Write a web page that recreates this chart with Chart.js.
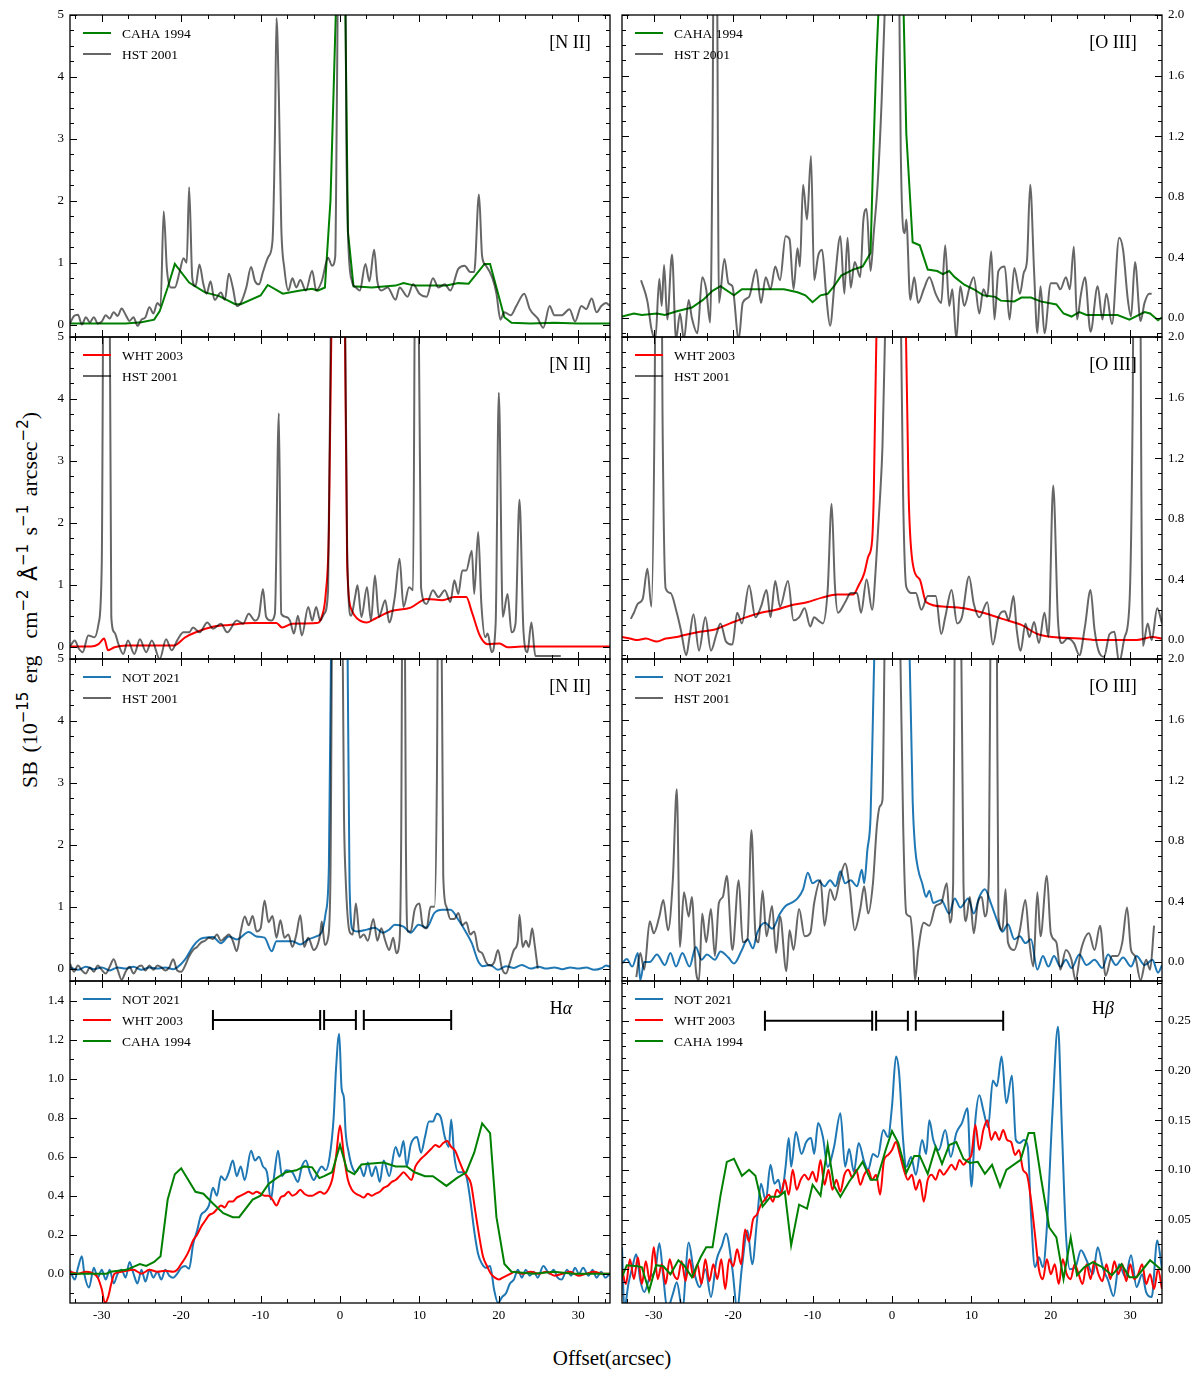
<!DOCTYPE html>
<html>
<head>
<meta charset="utf-8">
<script src="https://cdn.jsdelivr.net/npm/chart.js@4.4.1/dist/chart.umd.min.js"></script>
<style>
  body { margin: 0; background: #fff; width: 1201px; height: 1379px; position: relative; overflow: hidden; font-family: 'Liberation Serif', 'Times New Roman', serif; }
  canvas { position: absolute; }
  #ytitle { position: absolute; left: 30px; top: 600px; transform: translate(-50%, -50%) rotate(-90deg); white-space: nowrap; font-size: 22px; word-spacing: 3px; }
  #xtitle { position: absolute; left: 612px; top: 1358px; transform: translate(-50%, -50%); white-space: nowrap; font-size: 21px; }
  .m { font-family: 'DejaVu Sans', sans-serif; }
  sup { font-family: 'DejaVu Sans', sans-serif; font-size: 68%; vertical-align: 0.6em; line-height: 0; }
</style>
</head>
<body>
<div id="ytitle">SB (10<sup>−15</sup> erg&nbsp; cm<sup>−2</sup> <span class="m">Å</span><sup>−1</sup> s<sup>−1</sup> arcsec<sup>−2</sup>)</div>
<div id="xtitle">Offset(arcsec)</div>
<script>
// ---- data: [offset (arcsec), SB] pairs ----
const niiCaha94 = [[-34,0.02],[-30,0.02],[-27,0.02],[-25,0.04],[-23.4,0.08],[-22.7,0.22],[-21.7,0.6],[-20.8,0.98],[-19,0.68],[-17,0.52],[-15.2,0.46],[-13.2,0.33],[-12.5,0.33],[-10,0.47],[-9.1,0.64],[-7.2,0.5],[-5,0.55],[-3.5,0.58],[-2.8,0.55],[-1.9,0.6],[-1.2,2.0],[-0.4,5.6],[0,8],[0.5,7],[1,1.5],[1.7,0.62],[4,0.6],[7,0.63],[8,0.67],[9.4,0.63],[13.4,0.63],[14.9,0.67],[16.2,0.66],[17.4,0.85],[18.2,0.98],[18.9,0.98],[19.7,0.6],[20.7,0.12],[21.6,0.03],[24,0.02],[27,0.03],[30,0.02],[34,0.02]];
const niiHst01a = [[-34,0.02],[-33.5,0.14],[-33,0.16],[-32.5,0.0],[-32,0.12],[-31.5,0.04],[-31,0.12],[-30.5,0.02],[-30,0.05],[-29.5,0.15],[-29,0.1],[-28.5,0.2],[-28,0.14],[-27.5,0.26],[-27,0.16],[-26.5,0.06],[-26,0.12],[-25.5,-0.02],[-25,0.08],[-24.5,0.12],[-24,0.28],[-23.5,0.18],[-23,0.35],[-22.6,0.3],[-22.2,1.83],[-21.8,0.9],[-21.3,0.6],[-20.8,0.6],[-20.2,0.85],[-19.7,1.07],[-19.3,1.0],[-19,2.22],[-18.6,0.75],[-18.2,0.62],[-17.7,0.97],[-17.2,0.65],[-16.8,0.5],[-16.3,0.7],[-15.8,0.4],[-15,0.52],[-14.5,0.4],[-14,0.82],[-13.5,0.6],[-13,0.3],[-12.5,0.35],[-11.8,0.6],[-11.2,0.93],[-10.7,0.7],[-10.2,0.65],[-9.7,0.85],[-9,1.1],[-8.5,1.35],[-8.2,3.0],[-8,4.95],[-7.7,3.7],[-7.4,1.6],[-7,0.9],[-6.5,0.55],[-6,0.75],[-5.5,0.6],[-5,0.72],[-4.3,0.55],[-3.5,0.87],[-3,0.55],[-2.3,0.7],[-1.5,1.08],[-1,0.95],[-0.6,1.1],[-0.4,3.5],[0,9],[0.5,9],[0.8,3],[1,1.5],[1.5,0.7],[2,0.6],[2.5,0.55],[3.2,0.98],[3.7,0.7],[4.3,1.21],[4.7,0.7],[5.2,0.55],[6,0.6],[7,0.4],[7.5,0.6],[8.5,0.45],[9.2,0.65],[10,0.5],[10.9,0.45],[11.7,0.75],[12.4,0.6],[13.2,0.65],[13.9,0.55],[14.9,0.9],[15.7,0.95],[16.4,0.85],[16.9,0.85],[17.5,2.1],[17.9,1.1],[18.4,0.95],[19.2,0.75],[19.7,0.5],[20.2,0.08],[20.7,0.2],[21.5,0.15],[22.2,0.3],[23.2,0.5],[23.9,0.25],[24.9,0.1],[25.6,-0.05],[26.4,0.3],[27,0.15],[27.9,0.15],[28.9,0.25],[29.6,0.05],[30.4,0.3],[31,0.25],[31.7,0.42],[32.3,0.2],[32.9,0.3],[33.5,0.35],[34,0.3]];

const oiiiCaha94 = [[-34,0.01],[-32.5,0.03],[-31.5,0.02],[-29.6,0.03],[-28.6,0.02],[-27.1,0.045],[-25.2,0.07],[-23.8,0.12],[-22.6,0.18],[-21.6,0.21],[-19.9,0.15],[-18.9,0.19],[-13.6,0.19],[-11.9,0.17],[-10.9,0.15],[-10,0.105],[-9,0.15],[-8.1,0.16],[-7.3,0.21],[-6.4,0.28],[-4.9,0.32],[-3.7,0.34],[-2.7,0.43],[-2.4,1.0],[-2.0,1.66],[-1.4,2.4],[0,3],[1.3,2.4],[1.8,1.22],[2.6,0.5],[3.5,0.48],[4.5,0.32],[5.7,0.31],[6.4,0.29],[7.2,0.31],[7.9,0.27],[9.1,0.22],[10.3,0.19],[11.5,0.15],[13,0.14],[13.7,0.115],[15.4,0.11],[16.3,0.135],[17.5,0.135],[18.7,0.11],[20.7,0.09],[21.6,0.03],[22.6,0.01],[23.6,0.04],[24.5,0.02],[28.4,0.02],[29.9,-0.01],[31.8,0.04],[32.5,0.03],[33.5,-0.015],[34,0.005]];
const oiiiHst01a = [[-31.6,0.25],[-30.8,0.11],[-30.3,-0.07],[-29.8,-0.14],[-29.3,0.26],[-29,0.08],[-28.7,0.35],[-28.3,-0.01],[-27.7,0.42],[-27.2,-0.14],[-26.7,0.03],[-26.2,-0.14],[-25.6,0.12],[-25.2,0.0],[-24.5,-0.1],[-23.9,0.27],[-23.4,0.19],[-22.9,-0.03],[-22.6,1.2],[-22.4,3],[-22.1,3],[-21.9,0.8],[-21.8,0.1],[-21.1,0.39],[-20.6,0.23],[-20.1,0.21],[-19.3,-0.14],[-18.8,0.1],[-18,0.14],[-17.1,0.32],[-16.5,0.1],[-15.9,0.27],[-15.3,0.19],[-14.7,0.34],[-14.1,0.25],[-13.4,0.54],[-12.9,0.52],[-12.4,0.19],[-11.9,0.46],[-11.6,0.34],[-11.2,0.88],[-10.7,0.65],[-10.2,1.07],[-9.8,0.25],[-9.3,0.41],[-8.8,0.45],[-8.3,0.16],[-7.8,-0.05],[-7.2,0.25],[-6.5,0.54],[-6,0.16],[-5.6,0.53],[-5.2,0.2],[-4.7,0.37],[-4,0.27],[-3.6,0.65],[-3.2,0.72],[-2.7,0.31],[-2.3,0.56],[-1.8,0.89],[-1.3,1.44],[-0.8,2.2],[0,4],[0.9,2.2],[1.1,1.11],[1.6,0.56],[1.8,0.65],[2.3,0.12],[2.8,0.27],[3.3,0.1],[4,0.19],[4.7,0.27],[5.5,0.16],[6.2,0.1],[6.7,0.48],[7.2,0.08],[7.6,0.19],[8.1,-0.14],[8.6,0.21],[9.1,0.08],[9.8,0.21],[10.3,0.27],[11,0.03],[11.5,0.19],[12,0.14],[12.5,0.44],[12.9,-0.01],[13.4,0.31],[14.2,0.34],[14.8,-0.01],[15.4,0.33],[16.1,0.16],[16.6,0.3],[17,0.38],[17.4,0.88],[17.9,0.3],[18.3,-0.1],[18.7,0.21],[19.2,-0.1],[20,0.23],[20.7,0.23],[21.2,0.19],[21.9,0.27],[22.4,0.19],[22.9,0.47],[23.3,-0.01],[23.8,0.16],[24.3,0.27],[25,-0.09],[25.9,0.21],[26.5,-0.01],[27,0.16],[27.7,-0.04],[28.6,0.53],[29.1,0.45],[29.7,0.12],[30.1,0.01],[30.6,0.37],[31.3,-0.02],[31.8,0.1],[32.4,0.16],[32.7,0.16]];

const niiWht03 = [[-34,0.0],[-31.4,0.0],[-30.4,0.04],[-29.7,0.13],[-29.2,-0.06],[-28.4,-0.01],[-26.9,0.02],[-20.9,0.02],[-19.5,0.15],[-18,0.24],[-16,0.32],[-14,0.35],[-11,0.38],[-8,0.38],[-7.3,0.31],[-6,0.37],[-3,0.38],[-2.3,0.48],[-1.8,0.85],[-1.4,1.88],[-1,6],[0,9],[0.5,7],[0.9,1.34],[1.5,0.58],[2.2,0.45],[3.4,0.39],[4.4,0.45],[6.4,0.57],[8.9,0.63],[10.9,0.77],[12.9,0.75],[14.4,0.8],[15.9,0.8],[16.6,0.56],[17.6,0.18],[18.6,0.04],[20.1,0.05],[21.1,-0.01],[22.9,0.0],[34,0.0]];
const niiHst01b = [[-34,0.0],[-33.4,0.1],[-32.9,-0.03],[-32.4,-0.09],[-31.7,0.18],[-30.9,0.15],[-30.4,0.37],[-30,1.34],[-29.7,8],[-29.1,8],[-28.8,0.48],[-28.4,0.23],[-27.9,0.04],[-27.3,-0.12],[-26.7,0.1],[-25.9,-0.12],[-25.2,0.12],[-24.4,-0.09],[-23.7,0.1],[-22.7,-0.2],[-21.9,0.12],[-21.2,-0.06],[-20.5,0.1],[-19.7,0.23],[-19,0.23],[-18.5,0.31],[-17.7,0.23],[-16.7,0.39],[-16,0.29],[-15,0.37],[-14.2,0.23],[-13,0.42],[-12.2,0.37],[-11.5,0.53],[-10.7,0.42],[-10.2,0.5],[-9.7,0.93],[-9.3,0.48],[-8.7,0.42],[-8.2,0.53],[-7.7,3.77],[-7.4,0.53],[-6.8,0.48],[-6.3,0.42],[-5.8,0.21],[-5.3,0.5],[-4.8,0.18],[-4,0.64],[-3.5,0.42],[-3,0.64],[-2.5,0.42],[-2,0.53],[-1.5,0.91],[-1.1,6],[0,9],[0.6,6],[0.9,1.6],[1.4,0.5],[1.9,0.8],[2.2,0.99],[2.7,0.48],[3.4,0.96],[3.9,0.42],[4.4,1.15],[4.9,0.48],[5.7,0.75],[6.2,0.39],[6.9,0.8],[7.5,1.42],[8,0.64],[8.7,0.96],[9.2,0.91],[9.5,7],[9.8,7],[10.2,0.96],[10.9,0.69],[11.7,0.91],[12.4,0.8],[13.2,0.91],[13.9,0.72],[14.4,1.07],[14.9,0.85],[15.4,1.23],[15.9,1.23],[16.6,1.55],[16.9,0.85],[17.4,1.85],[17.8,0.69],[18.3,0.15],[18.6,0.21],[19.1,-0.09],[19.6,0.37],[20,4.1],[20.5,0.48],[21.1,0.85],[21.6,0.23],[22.1,0.37],[22.6,2.37],[23.1,0.26],[23.6,-0.09],[24.1,0.39],[24.6,-0.15],[27.8,-0.15]];

const oiiiWht03 = [[-34,0.02],[-33,0.01],[-32,0.0],[-31,0.01],[-29.6,-0.01],[-28.5,0.01],[-27.1,0.02],[-26.4,0.03],[-24.2,0.055],[-22.3,0.07],[-20.4,0.11],[-18.4,0.15],[-16.5,0.18],[-14.6,0.2],[-12.7,0.23],[-10.7,0.25],[-8.8,0.28],[-6.9,0.3],[-4.9,0.3],[-4.2,0.36],[-3.5,0.44],[-3,0.55],[-2.5,0.66],[-2.3,0.95],[-1.9,2.2],[0,3.5],[1.7,2.2],[2.1,0.95],[2.7,0.48],[3.5,0.4],[4.3,0.25],[6.7,0.22],[9.1,0.21],[11.5,0.18],[13.9,0.14],[16.3,0.1],[18.3,0.04],[20.2,0.02],[23.6,0.01],[26,0.0],[30.8,0.0],[32.8,0.02],[34,0.01]];
const oiiiHst01b = [[-32.9,0.14],[-32.5,0.18],[-32,0.24],[-31.4,0.27],[-30.8,0.47],[-30.3,0.22],[-29.9,1.5],[-29.6,4],[-29.2,4],[-28.9,1.5],[-28.5,0.34],[-27.9,0.31],[-27.1,0.18],[-26.6,0.07],[-25.9,-0.1],[-25.5,0.02],[-25,0.17],[-24.3,-0.07],[-23.5,0.15],[-22.8,-0.07],[-22.1,0.04],[-21.6,0.11],[-20.9,-0.01],[-20.1,-0.03],[-19.5,0.18],[-18.9,0.11],[-18,0.36],[-17.2,0.15],[-16.5,0.22],[-15.8,0.33],[-15.3,0.15],[-14.7,0.39],[-14.1,0.22],[-13.1,0.39],[-12.4,0.13],[-11.7,0.15],[-11,0.21],[-10.3,0.09],[-9.8,0.15],[-9.3,0.13],[-8.7,0.11],[-8.1,0.33],[-7.6,0.9],[-7.2,0.37],[-6.8,0.18],[-5.9,0.25],[-5.2,0.31],[-4.4,0.31],[-3.9,0.18],[-3.2,0.4],[-2.5,0.2],[-2,0.51],[-1.5,0.95],[-1.2,1.28],[-0.8,2.2],[0,4],[1.1,2.2],[1.4,0.95],[1.8,0.35],[2.6,0.31],[3,0.31],[3.7,0.2],[4.5,0.29],[5.5,0.29],[6.2,0.04],[6.7,0.15],[7.5,0.33],[8.2,0.11],[8.8,0.15],[9.7,0.42],[10.3,0.24],[11,0.15],[12,0.25],[12.7,-0.03],[13.4,0.15],[14.2,0.19],[14.7,0.13],[15.3,0.29],[15.7,0.07],[16.2,-0.07],[16.8,0.11],[17.3,0.02],[17.9,0.12],[18.5,-0.02],[19.2,0.18],[19.7,0.02],[20.3,1.02],[20.9,0.13],[21.4,-0.02],[22.1,0.01],[22.9,-0.02],[23.6,-0.1],[24.3,0.09],[25,0.33],[25.5,0.07],[26,-0.07],[26.7,-0.11],[27.4,0.04],[28,0.055],[28.6,-0.15],[29.3,0.02],[29.9,0.24],[30.3,1.5],[30.6,4],[31.1,4],[31.4,1.0],[31.6,-0.04],[32.2,0.11],[32.7,0.0],[33.4,0.21],[34,0.11]];

const niiNot21 = [[-34,0.02],[-33,-0.02],[-32,0.03],[-31,-0.01],[-30,0.02],[-29,-0.03],[-28,0.02],[-27,0.0],[-26,0.03],[-25,-0.02],[-24,0.02],[-23,0.0],[-22,0.02],[-21,-0.01],[-20.5,0.02],[-19.5,0.15],[-18.5,0.36],[-17.7,0.47],[-17,0.5],[-16,0.51],[-15,0.41],[-14,0.52],[-13,0.47],[-11.5,0.59],[-10.5,0.52],[-9.5,0.5],[-8.6,0.28],[-8,0.44],[-7,0.44],[-6,0.44],[-5,0.39],[-4,0.47],[-3,0.52],[-2.3,0.59],[-1.8,0.9],[-1.4,1.65],[-1.1,5.5],[0,9],[0.9,6],[1.2,1.38],[1.6,0.63],[2.2,0.6],[3.4,0.63],[4.4,0.66],[5.4,0.58],[6.2,0.63],[6.9,0.71],[8,0.68],[8.9,0.58],[9.9,0.71],[10.9,0.66],[11.9,0.9],[12.9,0.95],[13.9,0.95],[14.9,0.79],[15.9,0.58],[16.6,0.41],[17.4,0.12],[18,0.04],[18.9,0.06],[19.9,-0.02],[20.9,0.04],[21.9,0.01],[22.9,0.06],[24,0.0],[25,0.03],[26,0.0],[27,0.02],[28,-0.01],[29,0.02],[30,0.0],[31,0.02],[32,-0.02],[33,0.01],[33.5,0.05],[34,0.03]];
const niiHst01c = [[-34,0.08],[-33.5,-0.05],[-33,0.05],[-32.5,-0.03],[-32,-0.08],[-31.5,0.02],[-31,-0.05],[-30.5,0.05],[-30,-0.02],[-29.5,-0.08],[-29,0.03],[-28.5,0.15],[-28,-0.02],[-27.5,-0.18],[-27,-0.05],[-26.5,0.03],[-26,-0.08],[-25.5,0.02],[-25,0.05],[-24.5,-0.03],[-24,0.05],[-23.5,-0.02],[-23,0.05],[-22.5,0.02],[-22,-0.03],[-21.5,0.02],[-21,0.15],[-20.5,-0.03],[-20,-0.05],[-19.5,0.05],[-19,0.2],[-18.5,0.3],[-18,0.35],[-17.5,0.42],[-17,0.45],[-16.5,0.5],[-16,0.48],[-15.5,0.55],[-15,0.45],[-14.5,0.5],[-14,0.55],[-13.5,0.45],[-13,0.28],[-12.5,0.6],[-12,0.84],[-11.5,0.7],[-11,0.85],[-10.5,0.6],[-10,0.65],[-9.5,1.1],[-9,0.75],[-8.5,0.85],[-8,0.5],[-7.5,0.78],[-7,0.5],[-6.5,0.55],[-6,0.35],[-5.5,0.55],[-5,0.86],[-4.5,0.35],[-4,0.5],[-3.3,0.3],[-2.5,0.55],[-2.3,0.76],[-1.9,0.38],[-1.5,0.5],[-1.2,1.5],[-0.9,7],[0.2,7],[0.5,2.5],[0.7,1.5],[1.2,0.6],[1.6,0.55],[2,1.05],[2.5,0.5],[3,0.55],[3.5,0.45],[4.2,0.8],[4.7,0.45],[5.2,0.65],[5.7,0.45],[6.2,0.3],[6.7,0.5],[7.1,0.25],[7.5,0.45],[7.7,2],[7.9,7],[8.1,7],[8.3,2],[8.5,0.6],[8.9,0.6],[9.4,0.95],[10,1.05],[10.4,0.7],[10.9,0.65],[11.4,1.0],[11.9,1.0],[12.2,3],[12.4,7],[12.7,7],[13,1.5],[13.4,1.0],[13.9,0.8],[14.4,0.8],[14.9,0.9],[15.4,0.7],[15.9,0.75],[16.4,0.55],[16.9,0.6],[17.4,0.3],[17.9,0.25],[18.4,0.1],[18.9,0.05],[19.4,0.1],[19.9,0.3],[20.4,0.0],[20.9,-0.08],[21.4,0.1],[21.9,0.3],[22.4,0.45],[22.6,0.87],[23,0.35],[23.4,0.45],[23.8,0.35],[24.2,0.65],[24.5,0.4],[24.9,0.0]];

const oiiiNot21 = [[-34,-0.01],[-33.4,0.02],[-32.7,-0.03],[-32,0.06],[-31.7,-0.12],[-31.2,0.0],[-30.5,0.0],[-29.6,0.05],[-28.6,-0.02],[-27.9,0.06],[-27.2,-0.03],[-26.4,0.06],[-25.5,-0.03],[-24.7,0.1],[-24,0.015],[-23.3,0.05],[-22.3,0.015],[-21.6,0.07],[-20.6,0.03],[-19.9,-0.01],[-18.9,0.08],[-18.2,0.15],[-17.5,0.09],[-17,0.19],[-16,0.26],[-15.1,0.22],[-14.1,0.32],[-13.4,0.37],[-12.7,0.39],[-11.9,0.42],[-11.2,0.48],[-10.6,0.59],[-10,0.52],[-9.3,0.54],[-8.5,0.5],[-7.8,0.54],[-7.1,0.5],[-6.5,0.6],[-5.9,0.52],[-5.2,0.54],[-4.4,0.5],[-3.8,0.61],[-3.5,0.52],[-3.1,0.74],[-2.7,0.96],[-2.4,1.62],[-2.1,2.3],[0,3.5],[2.1,2.3],[2.6,1.07],[2.9,0.76],[3.3,0.61],[3.8,0.52],[4.3,0.43],[4.7,0.47],[5.2,0.39],[6.2,0.41],[7.2,0.32],[7.9,0.42],[8.6,0.36],[9.6,0.42],[10.3,0.32],[11,0.43],[11.7,0.48],[12.5,0.38],[13.2,0.28],[13.9,0.2],[14.6,0.25],[15.4,0.15],[16.1,0.17],[16.8,0.125],[17.5,0.15],[18.3,-0.05],[19,0.04],[19.7,-0.03],[20.4,0.04],[21.2,-0.03],[21.9,0.015],[22.6,-0.04],[23.6,0.05],[24.5,-0.02],[25.5,0.015],[26.5,-0.04],[27.2,0.05],[28.2,-0.02],[29.1,0.03],[30.1,-0.03],[30.8,0.04],[31.8,-0.02],[32.8,0.015],[33.5,-0.07],[34,-0.02]];
const oiiiHst01c = [[-32.2,-0.1],[-31.7,0.06],[-31.2,-0.05],[-30.5,0.27],[-30,0.19],[-29.3,0.3],[-28.8,0.41],[-28.2,0.21],[-27.6,0.54],[-27.1,1.14],[-26.7,0.1],[-26.2,0.46],[-25.6,0.3],[-25.2,0.43],[-24.7,-0.05],[-24.3,-0.12],[-23.9,0.32],[-23.4,0.13],[-22.8,0.35],[-22.3,0.04],[-21.8,0.39],[-21.3,0.43],[-20.8,0.57],[-20.1,0.08],[-19.3,0.54],[-18.8,0.13],[-18.2,0.15],[-17.7,0.87],[-17.2,0.19],[-16.8,0.13],[-16.3,0.47],[-15.8,0.17],[-15.1,0.37],[-14.6,0.06],[-14.1,0.3],[-13.3,-0.06],[-12.9,0.21],[-12.4,0.08],[-11.7,0.35],[-11,0.17],[-10.3,0.19],[-9.8,0.39],[-9,0.54],[-8.5,0.24],[-7.8,0.48],[-7.2,0.41],[-6.6,0.54],[-5.9,0.65],[-5.3,0.48],[-4.7,0.21],[-4,0.35],[-3.5,0.5],[-3,0.32],[-2.4,0.52],[-1.9,0.9],[-1.5,1.03],[-1.2,1.07],[-0.9,2.2],[0,4],[1,2.2],[1.4,0.92],[1.8,0.32],[2.3,0.3],[2.7,0.08],[2.9,-0.12],[3.3,0.08],[4,0.26],[4.7,0.24],[5.5,0.37],[6.2,0.39],[6.9,0.52],[7.3,0.26],[7.7,0.52],[7.9,2.2],[8.1,4],[8.5,4],[8.7,2.2],[9,0.52],[9.3,0.27],[9.8,0.43],[10.3,0.19],[10.8,0.39],[11.3,0.43],[11.7,0.3],[12.2,0.57],[12.4,2.2],[12.6,4],[13,4],[13.2,2.2],[13.4,0.3],[13.9,0.21],[14.3,0.48],[14.6,0.13],[15.4,0.08],[16.1,0.21],[16.8,0.41],[17.3,0.13],[17.8,-0.03],[18.3,0.46],[18.7,0.17],[19.5,0.57],[20,0.19],[20.7,0.13],[21.2,-0.05],[21.9,0.08],[22.6,0.015],[23.1,-0.12],[23.8,0.08],[24.8,0.19],[25.5,0.08],[26.2,0.24],[26.9,-0.09],[27.7,0.04],[28.4,0.04],[29,0.13],[29.6,0.36],[30.1,0.08],[30.6,0.04],[31.3,-0.12],[32,0.015],[32.5,-0.05],[33,0.24]];

const haNot21 = [[-34,0.02],[-33.4,-0.03],[-33,0.03],[-32.5,0.09],[-32.2,0.0],[-31.6,-0.07],[-31,0.03],[-30.5,-0.02],[-30,0.02],[-29.5,-0.03],[-29,0.02],[-28.5,-0.05],[-28,0.0],[-27.5,0.02],[-27,-0.02],[-26.5,0.06],[-26,0.0],[-25.5,-0.05],[-25,0.02],[-24.5,-0.04],[-24,0.02],[-23.5,-0.02],[-23,0.01],[-22.5,-0.03],[-22,0.02],[-21.5,-0.01],[-21,-0.02],[-20.5,0.0],[-20,0.03],[-19.5,0.04],[-19,0.025],[-18.5,0.15],[-18,0.22],[-17.5,0.3],[-17,0.32],[-16.5,0.35],[-16,0.44],[-15.5,0.4],[-15,0.5],[-14.5,0.48],[-14,0.52],[-13.5,0.58],[-13,0.5],[-12.5,0.55],[-12,0.48],[-11.2,0.63],[-10.7,0.58],[-10.2,0.6],[-9.7,0.55],[-9.2,0.52],[-8.7,0.38],[-8.3,0.5],[-7.8,0.63],[-7.3,0.5],[-6.8,0.53],[-6,0.52],[-5.3,0.47],[-4.8,0.55],[-4.3,0.58],[-3.8,0.52],[-3.3,0.48],[-2.8,0.52],[-2.3,0.55],[-1.8,0.53],[-1.3,0.6],[-0.8,0.8],[-0.5,1.05],[-0.1,1.23],[0.2,0.95],[0.5,0.9],[0.7,0.73],[1.1,0.62],[1.5,0.55],[2,0.52],[2.5,0.55],[3,0.5],[3.5,0.57],[4,0.5],[4.5,0.55],[5,0.47],[5.5,0.58],[6.2,0.5],[7,0.65],[7.5,0.6],[8,0.68],[8.4,0.55],[8.9,0.66],[9.7,0.7],[10.2,0.62],[10.7,0.7],[11.2,0.78],[11.7,0.78],[12.2,0.82],[12.7,0.8],[13.2,0.7],[13.7,0.65],[14,0.79],[14.4,0.6],[14.9,0.52],[15.4,0.52],[15.9,0.5],[16.4,0.38],[16.9,0.22],[17.4,0.1],[17.9,0.05],[18.4,0.03],[18.9,0.04],[19.4,-0.08],[19.9,-0.15],[20.4,-0.12],[20.9,-0.1],[21.4,-0.05],[21.9,-0.03],[22.4,0.02],[22.9,-0.02],[23.4,0.02],[23.9,-0.01],[24.4,0.01],[24.9,-0.02],[25.6,0.04],[26.4,0.0],[26.9,0.02],[27.4,-0.02],[27.9,-0.03],[28.6,0.02],[29.1,-0.01],[29.6,0.03],[30.1,0.0],[30.6,0.03],[31.3,-0.01],[31.8,0.02],[32.3,-0.02],[32.9,0.01],[33.4,-0.02],[34,0.0]];
const haWht03 = [[-34,0.01],[-33,0.0],[-32,0.01],[-31,0.0],[-30.5,-0.02],[-30,-0.08],[-29.6,-0.15],[-29.2,-0.12],[-28.8,-0.05],[-28.4,0.0],[-27.5,0.01],[-26,0.02],[-25,0.0],[-24,0.02],[-23,0.01],[-22,0.015],[-21,0.01],[-20.5,0.02],[-20,0.05],[-19.5,0.08],[-19,0.12],[-18.5,0.17],[-18,0.2],[-17.5,0.24],[-17,0.27],[-16.5,0.3],[-16,0.31],[-15.5,0.33],[-15,0.35],[-14.5,0.34],[-14,0.37],[-13.5,0.37],[-13,0.39],[-12.5,0.4],[-12,0.41],[-11.5,0.42],[-11,0.41],[-10.5,0.42],[-10,0.41],[-9.5,0.4],[-9,0.4],[-8.5,0.38],[-8,0.35],[-7.5,0.39],[-7,0.4],[-6.5,0.42],[-6,0.4],[-5.5,0.41],[-5,0.43],[-4.5,0.41],[-4,0.4],[-3.5,0.4],[-3,0.41],[-2.5,0.42],[-2,0.41],[-1.5,0.43],[-1,0.48],[-0.5,0.6],[0,0.76],[0.5,0.6],[1,0.48],[1.5,0.43],[2,0.41],[2.5,0.4],[3,0.39],[3.5,0.41],[4,0.4],[4.5,0.41],[5,0.42],[5.5,0.44],[6,0.45],[6.5,0.47],[7,0.48],[7.5,0.5],[8,0.52],[8.5,0.5],[9,0.48],[9.5,0.55],[10,0.58],[10.5,0.6],[11,0.62],[11.5,0.64],[12,0.66],[12.5,0.65],[13,0.67],[13.5,0.68],[14,0.65],[14.5,0.63],[15,0.58],[15.5,0.53],[16,0.5],[16.5,0.46],[17,0.33],[17.5,0.2],[18,0.09],[18.5,0.04],[19,0.0],[19.5,-0.02],[20,-0.03],[20.5,-0.02],[21,-0.01],[21.5,0.0],[22,0.01],[23,0.0],[24,0.01],[25,0.0],[26,0.01],[27,-0.01],[28,0.0],[29,0.01],[30,-0.01],[31,0.0],[32,0.01],[33,0.0],[34,0.0]];
const haCaha94 = [[-34,0.0],[-29.4,0.0],[-28.9,0.01],[-26.9,0.02],[-25.2,0.05],[-24.4,0.04],[-23.4,0.06],[-22.6,0.09],[-21.7,0.38],[-20.8,0.51],[-20,0.54],[-19.1,0.48],[-18.2,0.42],[-17.2,0.41],[-16,0.36],[-14.7,0.31],[-13.5,0.29],[-12.7,0.29],[-11,0.38],[-10,0.4],[-9,0.46],[-8,0.49],[-6.8,0.52],[-5.5,0.53],[-4.5,0.55],[-3.5,0.545],[-2.6,0.49],[-2,0.5],[-1,0.52],[0,0.66],[0.9,0.53],[1.8,0.51],[2.7,0.56],[4,0.565],[5.5,0.57],[7,0.55],[8.4,0.55],[9.4,0.52],[10.7,0.5],[11.7,0.5],[13.4,0.45],[14.7,0.49],[15.9,0.52],[16.9,0.62],[17.9,0.77],[18.9,0.72],[19.7,0.29],[20.7,0.05],[21.6,0.01],[24.4,0.0],[26.9,0.01],[29.4,0.0],[34,0.0]];

const hbNot21 = [[-34,0.022],[-33.7,-0.04],[-33.2,-0.015],[-32.7,0.002],[-32.2,0.015],[-31.7,-0.011],[-31.2,-0.023],[-30.5,-0.008],[-29.8,-0.001],[-29.3,0.026],[-28.8,-0.008],[-28.3,-0.04],[-27.6,-0.025],[-27.1,-0.013],[-26.4,-0.04],[-25.6,0.027],[-25,0.0],[-24.2,-0.018],[-23.5,0.0],[-22.8,-0.028],[-22.1,0.009],[-21.4,0.024],[-20.9,0.036],[-20.1,0.0],[-19.5,-0.04],[-18.9,0.002],[-18.2,0.039],[-17.6,0.005],[-17,0.049],[-16.5,0.086],[-15.9,0.069],[-15.3,0.105],[-14.8,0.086],[-14.3,0.09],[-13.9,0.076],[-13.4,0.103],[-13,0.132],[-12.7,0.103],[-12.1,0.138],[-11.4,0.116],[-10.8,0.128],[-10.2,0.132],[-9.8,0.116],[-9.3,0.147],[-8.7,0.133],[-8.1,0.103],[-7.3,0.123],[-6.5,0.157],[-5.9,0.103],[-5.4,0.121],[-4.8,0.098],[-4.2,0.127],[-3.5,0.108],[-3,0.1],[-2.4,0.116],[-1.8,0.113],[-1.1,0.14],[-0.5,0.133],[0,0.164],[0.5,0.214],[0.9,0.197],[1.4,0.13],[1.8,0.103],[2.4,0.113],[3,0.095],[3.8,0.13],[4.3,0.116],[4.7,0.15],[5.2,0.13],[5.9,0.12],[6.7,0.14],[7.4,0.113],[8.1,0.137],[8.8,0.147],[9.5,0.162],[10,0.083],[10.5,0.15],[11,0.175],[11.5,0.16],[12.1,0.143],[12.7,0.19],[13.2,0.184],[13.8,0.214],[14.4,0.167],[15.1,0.195],[15.6,0.13],[16.1,0.127],[16.6,0.13],[17.1,0.123],[17.5,0.056],[18,0.002],[18.5,0.012],[19,0.002],[19.5,0.042],[20.2,0.157],[20.9,0.244],[21.4,0.14],[21.9,0.036],[22.4,0.0],[23.1,0.002],[23.8,0.019],[24.5,0.009],[25.3,-0.005],[25.9,0.022],[26.6,0.0],[27.2,-0.011],[27.9,-0.027],[28.6,0.005],[29.4,-0.008],[30.1,0.014],[30.8,-0.018],[31.5,-0.005],[32,-0.023],[32.7,-0.028],[33.4,0.029],[34,0.0]];
const hbWht03 = [[-34,0.0],[-33.5,-0.015],[-33,0.01],[-32.5,-0.01],[-32,0.012],[-31.5,-0.015],[-31,0.008],[-30.5,-0.012],[-30,0.022],[-29.5,-0.01],[-29,0.005],[-28.5,-0.015],[-28,0.01],[-27.5,-0.005],[-27,-0.01],[-26.5,0.008],[-26,-0.012],[-25.5,0.01],[-25,-0.008],[-24.5,0.005],[-24,-0.015],[-23.5,0.01],[-23,-0.012],[-22.5,0.005],[-22,-0.01],[-21.5,0.01],[-21,-0.02],[-20.5,0.01],[-20,0.003],[-19.5,0.02],[-19,0.005],[-18.5,0.04],[-18,0.028],[-17.5,0.05],[-17,0.055],[-16.5,0.065],[-16,0.07],[-15.5,0.075],[-15,0.068],[-14.5,0.08],[-14,0.076],[-13.5,0.09],[-13,0.075],[-12.5,0.1],[-12,0.08],[-11.5,0.09],[-11,0.095],[-10.5,0.09],[-10,0.098],[-9.5,0.088],[-9,0.11],[-8.5,0.085],[-8,0.1],[-7.5,0.08],[-7,0.09],[-6.5,0.078],[-6,0.095],[-5.5,0.1],[-5,0.092],[-4.5,0.1],[-4,0.085],[-3.5,0.095],[-3,0.1],[-2.5,0.09],[-2,0.095],[-1.5,0.075],[-1,0.11],[-0.5,0.115],[0,0.12],[0.5,0.128],[1,0.115],[1.5,0.1],[2,0.09],[2.5,0.095],[3,0.08],[3.5,0.09],[4,0.068],[4.5,0.09],[5,0.095],[5.5,0.09],[6,0.1],[6.5,0.095],[7,0.1],[7.5,0.105],[8,0.1],[8.5,0.11],[9,0.105],[9.5,0.11],[10,0.115],[10.5,0.145],[11,0.12],[11.5,0.14],[12,0.15],[12.5,0.13],[13,0.138],[13.5,0.13],[14,0.14],[14.5,0.13],[15,0.128],[15.5,0.115],[16,0.12],[16.5,0.1],[17,0.095],[17.5,0.07],[18,0.035],[18.5,0.0],[19,-0.01],[19.5,0.01],[20,-0.005],[20.5,0.005],[21,-0.015],[21.5,0.01],[22,-0.005],[22.5,-0.01],[23,0.005],[23.5,-0.005],[24,-0.015],[24.5,0.005],[25,-0.01],[25.5,0.008],[26,-0.005],[26.5,-0.012],[27,0.005],[27.5,-0.01],[28,0.008],[28.5,-0.005],[29,0.005],[29.5,-0.012],[30,0.005],[30.5,-0.01],[31,-0.005],[31.5,0.005],[32,-0.015],[32.5,-0.005],[33,-0.02],[33.5,0.0],[34,-0.02]];
const hbCaha94 = [[-34,-0.008],[-33.4,0.004],[-32,0.003],[-31.5,0.002],[-30.6,-0.022],[-29.7,0.004],[-28.8,0.003],[-27.9,-0.005],[-26.9,0.009],[-26.2,0.004],[-25.2,-0.008],[-24.1,0.012],[-23.4,0.022],[-22.6,0.022],[-21.6,0.074],[-20.8,0.108],[-19.9,0.111],[-18.9,0.094],[-18,0.1],[-17.2,0.094],[-16.3,0.063],[-15.3,0.073],[-14.3,0.073],[-13.5,0.078],[-12.7,0.024],[-11.7,0.065],[-10.7,0.061],[-10,0.085],[-9,0.074],[-8.1,0.125],[-7.3,0.084],[-6.5,0.073],[-5.4,0.088],[-4.7,0.096],[-3.7,0.108],[-2.7,0.09],[-1.9,0.09],[-0.8,0.12],[0,0.139],[0.8,0.127],[1.8,0.097],[2.8,0.114],[3.5,0.114],[4.5,0.096],[5.5,0.123],[6.3,0.106],[7.2,0.125],[8.1,0.128],[9,0.111],[9.8,0.107],[10.8,0.108],[11.7,0.096],[12.6,0.105],[13.6,0.083],[14.4,0.1],[16.2,0.11],[17.2,0.137],[17.9,0.137],[18.8,0.09],[19.8,0.042],[20.7,0.032],[21.6,-0.01],[22.5,0.032],[23.3,-0.006],[24.2,0.002],[25.3,0.007],[26.5,0.002],[27.7,-0.006],[28.9,0.005],[29.9,-0.008],[30.8,-0.008],[32.5,0.009],[34,-0.001]];

// slit segments marked on the Balmer panels
const slitSegments = [[-16, -2.5], [-2, 2], [3, 14]];
const haSlitY = 1.3;
const hbSlitY = 0.25;

const GREEN = '#008000', GRAY = 'rgba(0,0,0,0.6)', RED = '#ff0000', BLUE = '#1f77b4';
const FONT = "'Liberation Serif', 'Times New Roman', serif";

const yKinds = {
  nii:  {min: -0.2,   max: 5,    major: 1,    minor: 0.25,   dec: 0},
  oiii: {min: -0.125, max: 2,    major: 0.4,  minor: 0.1,    dec: 1},
  ha:   {min: -0.15,  max: 1.5,  major: 0.2,  minor: 0.1,    dec: 1},
  hb:   {min: -0.034, max: 0.29, major: 0.05, minor: 0.0125, dec: 2}
};

const rowTops = [15, 337, 659, 981];
const ROW_H = 322;

const panels = [
  {row: 0, col: 0, kind: 'nii',  title: '[N II]',  tx: 500, lines: [['CAHA 1994', GREEN, niiCaha94], ['HST 2001', GRAY, niiHst01a]]},
  {row: 0, col: 1, kind: 'oiii', title: '[O III]', tx: 491, lines: [['CAHA 1994', GREEN, oiiiCaha94], ['HST 2001', GRAY, oiiiHst01a]]},
  {row: 1, col: 0, kind: 'nii',  title: '[N II]',  tx: 500, lines: [['WHT 2003', RED, niiWht03], ['HST 2001', GRAY, niiHst01b]]},
  {row: 1, col: 1, kind: 'oiii', title: '[O III]', tx: 491, lines: [['WHT 2003', RED, oiiiWht03], ['HST 2001', GRAY, oiiiHst01b]]},
  {row: 2, col: 0, kind: 'nii',  title: '[N II]',  tx: 500, lines: [['NOT 2021', BLUE, niiNot21], ['HST 2001', GRAY, niiHst01c]]},
  {row: 2, col: 1, kind: 'oiii', title: '[O III]', tx: 491, lines: [['NOT 2021', BLUE, oiiiNot21], ['HST 2001', GRAY, oiiiHst01c]]},
  {row: 3, col: 0, kind: 'ha', title: 'H|α', tx: 491, slitY: haSlitY, lines: [['NOT 2021', BLUE, haNot21], ['WHT 2003', RED, haWht03], ['CAHA 1994', GREEN, haCaha94]]},
  {row: 3, col: 1, kind: 'hb', title: 'H|β', tx: 481, slitY: hbSlitY, lines: [['NOT 2021', BLUE, hbNot21], ['WHT 2003', RED, hbWht03], ['CAHA 1994', GREEN, hbCaha94]]}
];

Chart.defaults.font.family = FONT;
Chart.defaults.font.size = 13;
Chart.defaults.color = '#000';

// frame, inward ticks, legend and panel label
function makeDeco(p, yk) {
  return {
    id: 'deco',
    afterDatasetsDraw(chart) {
      const {ctx, chartArea: a, scales: {x, y}} = chart;
      ctx.save();
      ctx.strokeStyle = '#000';
      ctx.lineWidth = 1;
      ctx.beginPath();
      for (let k = -1; k <= 19; k++) {
        const px = Math.round(x.getPixelForValue(-30 + k * 10 / 3)) + 0.5;
        const len = k % 3 === 0 ? 7 : 4;
        ctx.moveTo(px, a.bottom); ctx.lineTo(px, a.bottom - len);
        ctx.moveTo(px, a.top); ctx.lineTo(px, a.top + len);
      }
      const n0 = Math.ceil(yk.min / yk.minor - 1e-6), n1 = Math.floor(yk.max / yk.minor + 1e-6);
      const ratio = Math.round(yk.major / yk.minor);
      for (let k = n0; k <= n1; k++) {
        const py = Math.round(y.getPixelForValue(k * yk.minor)) + 0.5;
        const len = k % ratio === 0 ? 7 : 4;
        ctx.moveTo(a.left, py); ctx.lineTo(a.left + len, py);
        ctx.moveTo(a.right, py); ctx.lineTo(a.right - len, py);
      }
      ctx.stroke();
      ctx.lineWidth = 1.3;
      ctx.strokeRect(a.left, a.top, a.width, a.height);

      // legend
      ctx.font = '13.5px ' + FONT;
      ctx.textBaseline = 'middle';
      ctx.textAlign = 'left';
      p.lines.forEach((l, i) => {
        const ly = a.top + 18 + i * 21;
        ctx.strokeStyle = l[1];
        ctx.lineWidth = 2;
        ctx.beginPath();
        ctx.moveTo(a.left + 13, ly); ctx.lineTo(a.left + 41, ly);
        ctx.stroke();
        ctx.fillStyle = '#000';
        ctx.fillText(l[0], a.left + 52, ly + 1);
      });

      // panel label
      const parts = p.title.split('|');
      const ty = a.top + 28;
      ctx.fillStyle = '#000';
      ctx.font = '18px ' + FONT;
      const w0 = ctx.measureText(parts[0]).width;
      let w1 = 0;
      if (parts[1]) { ctx.font = 'italic 18px ' + FONT; w1 = ctx.measureText(parts[1]).width; }
      const x0 = a.left + p.tx - (w0 + w1) / 2;
      ctx.font = '18px ' + FONT;
      ctx.fillText(parts[0], x0, ty);
      if (parts[1]) { ctx.font = 'italic 18px ' + FONT; ctx.fillText(parts[1], x0 + w0, ty); }
      ctx.restore();
    }
  };
}

panels.forEach(p => {
  const yk = yKinds[p.kind];
  const last = p.row === 3;
  const cv = document.createElement('canvas');
  const left = p.col === 0 ? 0 : 620;
  const width = p.col === 0 ? 612 : 581;
  const top = rowTops[p.row] - 12;
  const height = 12 + ROW_H + (last ? 35 : 12);
  cv.width = width; cv.height = height;
  cv.style.left = left + 'px'; cv.style.top = top + 'px';
  cv.style.width = width + 'px'; cv.style.height = height + 'px';
  document.body.appendChild(cv);

  const n = p.lines.length;
  const datasets = p.lines.map((l, i) => ({
    label: l[0],
    data: l[2].map(d => ({x: d[0], y: d[1]})),
    borderColor: l[1],
    borderWidth: 2,
    pointRadius: 0,
    cubicInterpolationMode: l[0].startsWith('CAHA') ? 'default' : 'monotone',
    tension: l[0].startsWith('CAHA') ? 0 : 0.4,
    fill: false,
    clip: 0,
    order: n - i
  }));
  if (p.slitY !== undefined) {
    slitSegments.forEach(s => datasets.push({
      label: '',
      data: [{x: s[0], y: p.slitY}, {x: s[1], y: p.slitY}],
      borderColor: '#000',
      borderWidth: 2,
      pointStyle: 'line',
      pointRotation: 90,
      pointRadius: 10,
      pointBorderWidth: 2,
      pointBorderColor: '#000',
      order: 0
    }));
  }

  const noPad = s => { s.paddingLeft = 0; s.paddingRight = 0; s.paddingTop = 0; s.paddingBottom = 0; };

  new Chart(cv, {
    type: 'line',
    data: {datasets},
    options: {
      responsive: false,
      animation: false,
      devicePixelRatio: 1,
      events: [],
      layout: {autoPadding: false, padding: {top: 12, bottom: last ? 0 : 12, left: p.col === 0 ? 0 : 2, right: p.col === 0 ? 2 : 0}},
      plugins: {legend: {display: false}, tooltip: {enabled: false}, title: {display: false}},
      scales: {
        x: {
          type: 'linear', min: -34, max: 34,
          grid: {display: false, drawTicks: false},
          border: {display: false},
          ticks: {display: last, stepSize: 10, includeBounds: false, padding: 5, maxRotation: 0, autoSkip: false, callback: v => String(v)},
          afterBuildTicks: s => { s.ticks = s.ticks.filter(t => Math.abs(t.value / 10 - Math.round(t.value / 10)) < 1e-6); },
          afterFit: s => { s.height = last ? 35 : 0; noPad(s); }
        },
        y: {
          type: 'linear', position: p.col === 0 ? 'left' : 'right',
          min: yk.min, max: yk.max,
          grid: {display: false, drawTicks: false},
          border: {display: false},
          ticks: {stepSize: yk.major, includeBounds: false, padding: 6, autoSkip: false, callback: v => Number(v).toFixed(yk.dec)},
          afterBuildTicks: s => { s.ticks = s.ticks.filter(t => Math.abs(t.value / yk.major - Math.round(t.value / yk.major)) < 1e-6); },
          afterFit: s => { s.width = p.col === 0 ? 70 : 39; noPad(s); }
        }
      }
    },
    plugins: [makeDeco(p, yk)]
  });
});
</script>
</body>
</html>
